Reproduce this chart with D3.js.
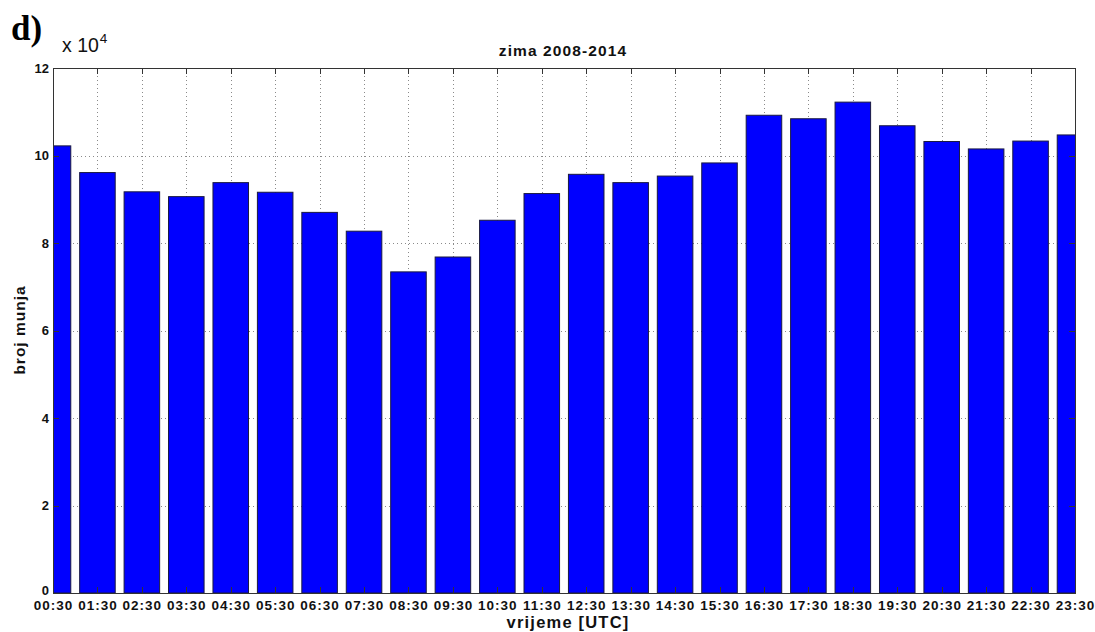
<!DOCTYPE html>
<html>
<head>
<meta charset="utf-8">
<script src="https://cdn.jsdelivr.net/npm/d3@7"></script>
<style>
  html, body { margin: 0; padding: 0; background: #fff; }
  svg { display: block; }
</style>
</head>
<body>
<svg id="chart" width="1095" height="632"></svg>
<script>
const categories = ["00:30","01:30","02:30","03:30","04:30","05:30","06:30","07:30","08:30","09:30","10:30","11:30",
                    "12:30","13:30","14:30","15:30","16:30","17:30","18:30","19:30","20:30","21:30","22:30","23:30"];
const values = [10.22, 9.61, 9.17, 9.06, 9.38, 9.16, 8.70, 8.27, 7.34, 7.68, 8.52, 9.13,
                9.57, 9.38, 9.53, 9.83, 10.92, 10.84, 11.22, 10.68, 10.32, 10.15, 10.33, 10.47];
const yTicks = [0, 2, 4, 6, 8, 10, 12];
const titleText = "zima 2008-2014";
const xLabel = "vrijeme [UTC]";
const yLabel = "broj munja";
const panelLabel = "d)";

const svg = d3.select("#chart");
const m = { left: 53, right: 1075, top: 68, bottom: 593 };

const x = d3.scaleLinear().domain([0, categories.length - 1]).range([m.left, m.right]);
const y = d3.scaleLinear().domain([0, 12]).range([m.bottom, m.top]);
const step = x(1) - x(0);
const bw = step * 0.8;

svg.append("defs").append("clipPath").attr("id", "clip")
  .append("rect").attr("x", m.left).attr("y", m.top)
  .attr("width", m.right - m.left).attr("height", m.bottom - m.top);

// grid
const grid = svg.append("g").attr("stroke", "#8a8a8a").attr("stroke-width", 1).attr("stroke-dasharray", "1,3");
grid.selectAll("line.v").data(categories.map((c, i) => i)).join("line")
  .attr("x1", d => Math.round(x(d)) + 0.5).attr("x2", d => Math.round(x(d)) + 0.5)
  .attr("y1", m.top).attr("y2", m.bottom);
grid.selectAll("line.h").data(yTicks).join("line")
  .attr("x1", m.left).attr("x2", m.right)
  .attr("y1", d => Math.round(y(d)) + 0.5).attr("y2", d => Math.round(y(d)) + 0.5);

// bars
svg.append("g").attr("clip-path", "url(#clip)")
  .selectAll("rect").data(values).join("rect")
  .attr("x", (d, i) => x(i) - bw / 2)
  .attr("width", bw)
  .attr("y", d => y(d))
  .attr("height", d => y(0) - y(d))
  .attr("fill", "#0000ff")
  .attr("stroke", "#1a1a40")
  .attr("stroke-width", 1);

// axes box
const axisColor = "#333";
svg.append("rect").attr("x", m.left + 0.5).attr("y", m.top + 0.5)
  .attr("width", m.right - m.left).attr("height", m.bottom - m.top)
  .attr("fill", "none").attr("stroke", axisColor).attr("stroke-width", 1);

// inward ticks
const tl = 6;
const tk = svg.append("g").attr("stroke", axisColor).attr("stroke-width", 1);
categories.forEach((c, i) => {
  const xx = Math.round(x(i)) + 0.5;
  tk.append("line").attr("x1", xx).attr("x2", xx).attr("y1", m.bottom).attr("y2", m.bottom - tl);
  tk.append("line").attr("x1", xx).attr("x2", xx).attr("y1", m.top).attr("y2", m.top + tl);
});
yTicks.forEach(t => {
  const yy = Math.round(y(t)) + 0.5;
  tk.append("line").attr("x1", m.left).attr("x2", m.left + tl).attr("y1", yy).attr("y2", yy);
  tk.append("line").attr("x1", m.right).attr("x2", m.right - tl).attr("y1", yy).attr("y2", yy);
});

// tick labels
const font = "'Liberation Sans', Arial, sans-serif";
svg.append("g").selectAll("text").data(categories).join("text")
  .attr("x", (d, i) => x(i) + 0.5).attr("y", 609.5)
  .attr("text-anchor", "middle")
  .attr("font-family", font).attr("font-weight", "bold").attr("font-size", 13.5)
  .attr("letter-spacing", 1)
  .attr("fill", "#111").text(d => d);

svg.append("g").selectAll("text").data(yTicks).join("text")
  .attr("x", 49).attr("y", d => d === 0 ? y(d) + 2 : y(d) + 4.5)
  .attr("text-anchor", "end")
  .attr("font-family", font).attr("font-weight", "bold").attr("font-size", 13)
  .attr("fill", "#111").text(d => d);

// labels
svg.append("text").attr("x", 568).attr("y", 628)
  .attr("text-anchor", "middle").attr("font-family", font).attr("font-weight", "bold")
  .attr("font-size", 16.5).attr("letter-spacing", 1.2).attr("fill", "#111").text(xLabel);

svg.append("text").attr("transform", `translate(25, 330) rotate(-90)`)
  .attr("text-anchor", "middle").attr("font-family", font).attr("font-weight", "bold")
  .attr("font-size", 15.5).attr("letter-spacing", 1).attr("fill", "#111").text(yLabel);

svg.append("text").attr("x", 563).attr("y", 56)
  .attr("text-anchor", "middle").attr("font-family", font).attr("font-weight", "bold")
  .attr("font-size", 15.5).attr("letter-spacing", 1.1).attr("fill", "#111").text(titleText);

// exponent
const ex = svg.append("text").attr("x", 62).attr("y", 52)
  .attr("font-family", font).attr("font-size", 19.5).attr("fill", "#111");
ex.append("tspan").text("x 10");
ex.append("tspan").attr("dx", 1).attr("dy", -9).attr("font-size", 13.5).text("4");

// panel label
svg.append("text").attr("x", 11).attr("y", 40)
  .attr("font-family", "'Liberation Serif', 'Times New Roman', serif").attr("font-weight", "bold")
  .attr("font-size", 35).attr("fill", "#000").text(panelLabel);
</script>
</body>
</html>
